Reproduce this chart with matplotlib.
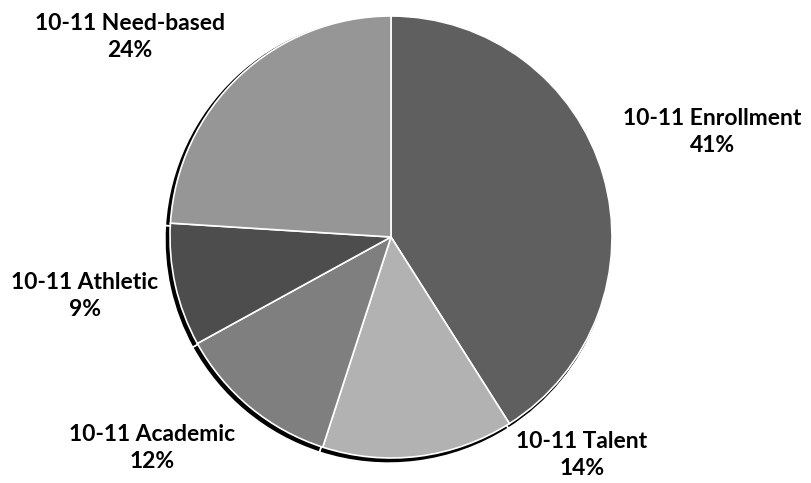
import matplotlib
matplotlib.use("Agg")
import matplotlib.pyplot as plt

categories = ["10-11 Enrollment", "10-11 Talent", "10-11 Academic", "10-11 Athletic", "10-11 Need-based"]
values = [41, 14, 12, 9, 24]
colors = ["#5f5f5f", "#b2b2b2", "#7f7f7f", "#4d4d4d", "#969696"]
# label block centres in pixel coordinates (layout)
label_px = [(712, 132), (582, 455), (152, 448), (85, 296), (130, 37)]

W, H = 811, 483
cx, cy, R = 391, 237, 221

fig = plt.figure(figsize=(W / 100, H / 100), dpi=100)
ax = fig.add_axes([0, 0, 1, 1])
ax.axis("off")

# shadow
ax.pie(values, colors=["black"] * len(values), startangle=90, counterclock=False,
       radius=1.012, center=(-2.5 / R, -2.5 / R),
       wedgeprops=dict(edgecolor="white", linewidth=1.2))

wedges, _ = ax.pie(values, colors=colors, startangle=90, counterclock=False,
                   radius=1.0, wedgeprops=dict(edgecolor="white", linewidth=1.2))
ax.set_xlim(-cx / R, (W - cx) / R)
ax.set_ylim(-(H - cy) / R, cy / R)
ax.set_aspect("equal")

for cat, v, (px, py) in zip(categories, values, label_px):
    ax.text((px - cx) / R, (cy - py) / R, f"{cat}\n{v}%", ha="center", va="center",
            fontsize=16.5, fontweight="bold", family=["Lato", "DejaVu Sans"],
            linespacing=1.4, color="black")

fig.savefig("out.png", dpi=100)
